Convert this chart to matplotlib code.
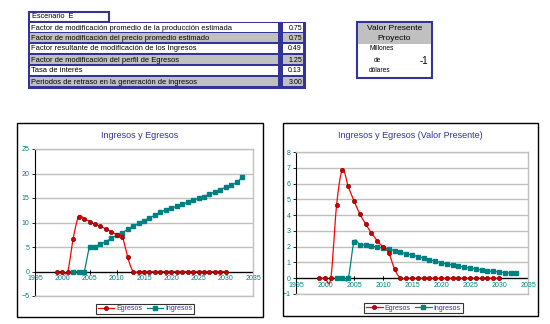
import matplotlib
matplotlib.use("Agg")
import matplotlib.pyplot as plt
from matplotlib.patches import Rectangle
from matplotlib.lines import Line2D
from matplotlib.transforms import offset_copy
import numpy as np

plt.rcParams['font.family'] = ['Liberation Sans', 'DejaVu Sans']

# ---------------- data ----------------
scenario = "Escenario  E"
param_labels = [
    "Factor de modificación promedio de la producción estimada",
    "Factor de modificación del precio promedio estimado",
    "Factor resultante de modificación de los Ingresos",
    "Factor de modificación del perfil de Egresos",
    "Tasa de interés",
    "Periodos de retraso en la generación de ingresos",
]
param_values = ["0.75", "0.75", "0.49", "1.25", "0.13", "3.00"]
vp_title = ["Valor Presente", "Proyecto"]
vp_units = ["Millones", "de", "dólares"]
vp_value = "-1"

egr_years = list(range(1999, 2031))
egr_values = [0, 0, 0, 6.7, 11.2, 10.8, 10.2, 9.7, 9.2, 8.7, 8.1, 7.5, 7.1, 2.9,
              0, 0, 0, 0, 0, 0, 0, 0, 0, 0, 0, 0, 0, 0, 0, 0, 0, 0]
ing_years = list(range(2002, 2034))
ing_values = [0, 0, 0, 4.9, 5.1, 5.6, 6.1, 6.8, 7.4, 7.9, 8.6, 9.2, 9.8, 10.4, 10.9,
              11.5, 12.1, 12.6, 12.9, 13.3, 13.7, 14.1, 14.5, 14.9, 15.3, 15.8,
              16.2, 16.7, 17.2, 17.6, 18.2, 19.2]
egr_pv = [0, 0, 0, 4.65, 6.88, 5.82, 4.9, 4.08, 3.44, 2.87, 2.38, 1.97, 1.6, 0.57,
          0, 0, 0, 0, 0, 0, 0, 0, 0, 0, 0, 0, 0, 0, 0, 0, 0, 0]
ing_pv = [0, 0, 0, 2.3, 2.12, 2.1, 2.03, 1.98, 1.93, 1.84, 1.74, 1.65, 1.55, 1.47,
          1.37, 1.28, 1.17, 1.09, 0.98, 0.9, 0.83, 0.77, 0.7, 0.63, 0.58, 0.52,
          0.47, 0.43, 0.4, 0.36, 0.33, 0.32]
titles = ["Ingresos y Egresos", "Ingresos y Egresos (Valor Presente)"]
series_names = ["Egresos", "Ingresos"]

W, H = 550, 324
fig = plt.figure(figsize=(W / 100, H / 100), dpi=100)
fig.patch.set_facecolor("white")

NAVY = "#333399"
TEAL = "#008080"
GRAY = "#c0c0c0"
RED = "#ff0000"


def rect(x0, y0, x1, y1, **kw):
    r = Rectangle((x0 / W, 1 - y1 / H), (x1 - x0) / W, (y1 - y0) / H,
                  transform=fig.transFigure, **kw)
    fig.add_artist(r)
    return r


def txt(x, y, s, **kw):
    fig.text(x / W, 1 - y / H, s, **kw)


def smooth(xs, ys, n=12):
    """Excel-style smoothed line (Catmull-Rom Bezier) through the data points."""
    x = np.asarray(xs, float)
    y = np.asarray(ys, float)
    px = np.concatenate([[x[0]], x, [x[-1]]])
    py = np.concatenate([[y[0]], y, [y[-1]]])
    outx, outy = [x[0]], [y[0]]
    t = np.linspace(0, 1, n + 1)[1:]
    for i in range(1, len(px) - 2):
        p0 = np.array([px[i], py[i]])
        p3 = np.array([px[i + 1], py[i + 1]])
        c1 = p0 + (np.array([px[i + 1], py[i + 1]]) - np.array([px[i - 1], py[i - 1]])) / 6
        c2 = p3 - (np.array([px[i + 2], py[i + 2]]) - np.array([px[i], py[i]])) / 6
        b = ((1 - t) ** 3)[:, None] * p0 + (3 * (1 - t) ** 2 * t)[:, None] * c1 \
            + (3 * (1 - t) * t ** 2)[:, None] * c2 + (t ** 3)[:, None] * p3
        outx.extend(b[:, 0])
        outy.extend(b[:, 1])
    return outx, outy


# ---------------- top parameter table ----------------
rect(29, 12, 109, 22, facecolor="white", edgecolor=NAVY, linewidth=1.5)
txt(32, 17, scenario, fontsize=5.3, va="center", ha="left")
rect(28, 22, 306, 89, facecolor=NAVY, edgecolor=NAVY, linewidth=0)
row_tops = [23, 33, 44, 55, 66, 77]
row_h = 10
for i, (lab, val) in enumerate(zip(param_labels, param_values)):
    c = "white" if i % 2 == 0 else GRAY
    y0 = row_tops[i]
    rect(30, y0, 278, y0 + row_h - 1, facecolor=c, edgecolor="none")
    rect(283, y0, 303, y0 + row_h - 1, facecolor=c, edgecolor="none")
    txt(31, y0 + row_h / 2, lab, fontsize=5.4, va="center", ha="left")
    txt(302, y0 + row_h / 2, val, fontsize=5.0, va="center", ha="right")

# ---------------- valor presente box ----------------
rect(357, 22, 432, 78, facecolor="white", edgecolor=NAVY, linewidth=1.5)
rect(358, 23, 431, 44, facecolor=GRAY, edgecolor="none")
txt(394.5, 29, vp_title[0], fontsize=6, ha="center", va="center")
txt(394.5, 38, vp_title[1], fontsize=6, ha="center", va="center")
for s, xx, yy in zip(vp_units, [369, 374, 369], [48, 60, 71]):
    txt(xx, yy, s, fontsize=4.8, ha="left", va="center")
txt(428, 61, vp_value, fontsize=7, ha="right", va="center")

# ---------------- charts ----------------
charts = [
    dict(frame=(17, 123, 263, 317), ax=(35, 149, 253, 296), ylim=(-5, 25), ystep=5,
         egr=egr_values, ing=ing_values, title=titles[0], ty=136,
         leg=(97, 304, 193, 314)),
    dict(frame=(283, 123, 538, 316), ax=(296, 152, 528, 294), ylim=(-1, 8), ystep=1,
         egr=egr_pv, ing=ing_pv, title=titles[1], ty=136,
         leg=(366, 303, 461, 313)),
]

for ch in charts:
    fx0, fy0, fx1, fy1 = ch["frame"]
    rect(fx0, fy0, fx1, fy1, facecolor="none", edgecolor="black", linewidth=1.0)
    ax0, ay0, ax1, ay1 = ch["ax"]
    ax = fig.add_axes([ax0 / W, 1 - ay1 / H, (ax1 - ax0) / W, (ay1 - ay0) / H])
    ax.set_facecolor("white")
    ax.set_xlim(1995, 2035)
    ax.set_ylim(*ch["ylim"])
    yt = list(range(ch["ylim"][0], ch["ylim"][1] + 1, ch["ystep"]))
    ax.set_yticks(yt)
    ax.set_xticks(list(range(1995, 2036, 5)))
    ax.yaxis.grid(True, color=GRAY, linewidth=1.0)
    ax.set_axisbelow(True)
    for sp in ["top", "right", "bottom"]:
        ax.spines[sp].set_color(GRAY)
        ax.spines[sp].set_linewidth(1.0)
    ax.spines["left"].set_color("black")
    ax.spines["left"].set_linewidth(0.8)
    ax.axhline(0, color="black", linewidth=0.9, zorder=2)
    ax.tick_params(axis="y", colors="black", labelcolor=TEAL, labelsize=5,
                   length=2.5, width=0.6, pad=1.5, direction="out")
    ax.tick_params(axis="x", length=0, labelcolor=TEAL, labelsize=5, pad=1)
    ax.set_xticklabels([])
    tr = offset_copy(ax.transData, fig=fig, x=0, y=-2.5, units="points")
    for xv in range(1995, 2036, 5):
        ax.text(xv, 0, str(xv), transform=tr, color=TEAL, fontsize=5,
                ha="center", va="top", clip_on=False)
        ax.plot([xv, xv], [0, 0], marker="|", markersize=2.5, color="black",
                markeredgewidth=0.6, clip_on=False)
    sx, sy = smooth(ing_years, ch["ing"])
    ax.plot(sx, sy, color=TEAL, linewidth=0.9, zorder=3, clip_on=False)
    ax.plot(ing_years, ch["ing"], linestyle="none", marker="s", markersize=3.3,
            markerfacecolor=TEAL, markeredgecolor=TEAL, zorder=3, clip_on=False)
    sx, sy = smooth(egr_years, ch["egr"])
    ax.plot(sx, sy, color=RED, linewidth=0.9, zorder=4, clip_on=False)
    ax.plot(egr_years, ch["egr"], linestyle="none", marker="o", markersize=3.0,
            markerfacecolor="#d00000", markeredgecolor="#800000",
            markeredgewidth=0.5, zorder=4, clip_on=False)
    h1 = Line2D([], [], color=RED, linewidth=0.9, marker="o", markersize=3.0,
                markerfacecolor="#d00000", markeredgecolor="#800000",
                markeredgewidth=0.5)
    h2 = Line2D([], [], color=TEAL, linewidth=0.9, marker="s", markersize=3.3,
                markerfacecolor=TEAL, markeredgecolor=TEAL)
    txt((fx0 + fx1) / 2, ch["ty"], ch["title"], fontsize=6.5, color=NAVY,
        ha="center", va="center")
    lx0, ly0, lx1, ly1 = ch["leg"]
    leg = fig.legend(handles=[h1, h2], labels=series_names, loc="center",
                     bbox_to_anchor=((lx0 + lx1) / 2 / W, 1 - (ly0 + ly1) / 2 / H),
                     ncol=2, fontsize=5, frameon=True, fancybox=False,
                     edgecolor="black", handlelength=2.4, handletextpad=0.3,
                     columnspacing=0.6, borderpad=0.25, borderaxespad=0)
    leg.get_frame().set_linewidth(0.8)
    for t in leg.get_texts():
        t.set_color(NAVY)

fig.savefig("out.png", dpi=100, facecolor="white")
